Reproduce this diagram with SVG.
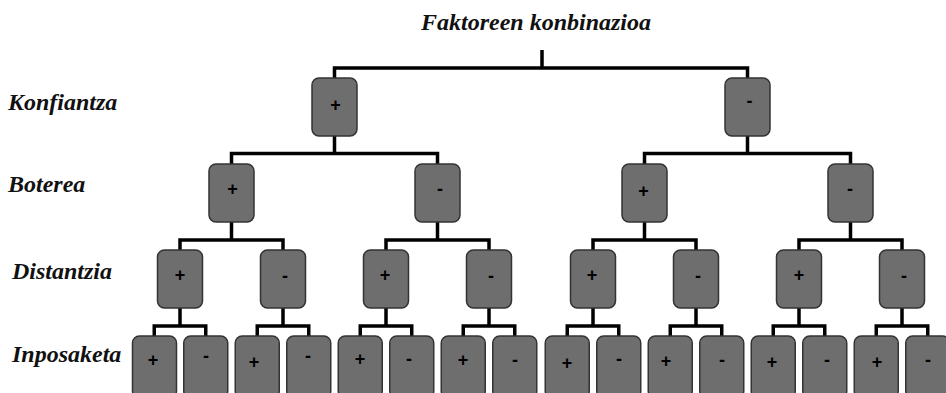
<svg xmlns="http://www.w3.org/2000/svg" width="946" height="393" viewBox="0 0 946 393">
<style>
.lbl{font-family:"Liberation Serif","Times New Roman",serif;font-weight:bold;font-style:italic;font-size:24px;fill:#111}
.nd rect{fill:#6e6e6e;stroke:#333;stroke-width:1.5}
.nd text{font-family:"Liberation Sans",Arial,sans-serif;font-weight:bold;font-size:18px;fill:#000;text-anchor:middle}
.cn path{fill:none;stroke:#000;stroke-width:3.5;stroke-linejoin:miter}
</style>
<rect width="946" height="393" fill="#fff"/>
<text class="lbl" x="536" y="30" text-anchor="middle">Faktoreen konbinazioa</text>
<text class="lbl" x="8" y="110">Konfiantza</text>
<text class="lbl" x="8" y="192">Boterea</text>
<text class="lbl" x="12" y="279">Distantzia</text>
<text class="lbl" x="12" y="362">Inposaketa</text>
<g id="connectors" class="cn">
<path d="M542 50V68M334.5 78V68H747.5V78"/>
<path d="M334.5 136V153.5M231.5 164V153.5H437.5V164"/>
<path d="M747.5 136V153.5M644.5 164V153.5H850.5V164"/>
<path d="M231.5 222V240M180 250V240H283V250"/>
<path d="M437.5 222V240M386 250V240H489V250"/>
<path d="M644.5 222V240M593 250V240H696V250"/>
<path d="M850.5 222V240M799 250V240H902V250"/>
<path d="M180 308V326M154.25 336V326H205.75V336"/>
<path d="M283 308V326M257.25 336V326H308.75V336"/>
<path d="M386 308V326M360.25 336V326H411.75V336"/>
<path d="M489 308V326M463.25 336V326H514.75V336"/>
<path d="M593 308V326M567.25 336V326H618.75V336"/>
<path d="M696 308V326M670.25 336V326H721.75V336"/>
<path d="M799 308V326M773.25 336V326H824.75V336"/>
<path d="M902 308V326M876.25 336V326H927.75V336"/>
</g>
<g id="n1p" class="nd"><rect x="312" y="78" width="45" height="58" rx="7"/><text x="335.5" y="110.5">+</text></g>
<g id="n1m" class="nd"><rect x="725" y="78" width="45" height="58" rx="7"/><text x="749.5" y="107">-</text></g>
<g id="n2a" class="nd"><rect x="209" y="164" width="45" height="58" rx="7"/><text x="232.5" y="195">+</text></g>
<g id="n2b" class="nd"><rect x="415" y="164" width="45" height="58" rx="7"/><text x="440" y="194.5">-</text></g>
<g id="n2c" class="nd"><rect x="622" y="164" width="45" height="58" rx="7"/><text x="643.5" y="197">+</text></g>
<g id="n2d" class="nd"><rect x="828" y="164" width="45" height="58" rx="7"/><text x="850" y="194.5">-</text></g>
<g id="n3a" class="nd"><rect x="157.5" y="250" width="45" height="58" rx="7"/><text x="180" y="281">+</text></g>
<g id="n3b" class="nd"><rect x="260.5" y="250" width="45" height="58" rx="7"/><text x="285" y="282">-</text></g>
<g id="n3c" class="nd"><rect x="363.5" y="250" width="45" height="58" rx="7"/><text x="385" y="281">+</text></g>
<g id="n3d" class="nd"><rect x="466.5" y="250" width="45" height="58" rx="7"/><text x="491" y="282">-</text></g>
<g id="n3e" class="nd"><rect x="570.5" y="250" width="45" height="58" rx="7"/><text x="592" y="281">+</text></g>
<g id="n3f" class="nd"><rect x="673.5" y="250" width="45" height="58" rx="7"/><text x="698" y="282">-</text></g>
<g id="n3g" class="nd"><rect x="776.5" y="250" width="45" height="58" rx="7"/><text x="799" y="281">+</text></g>
<g id="n3h" class="nd"><rect x="879.5" y="250" width="45" height="58" rx="7"/><text x="904" y="282">-</text></g>
<g id="n4a" class="nd"><rect x="132.5" y="336" width="44" height="62" rx="7"/><text x="153" y="366">+</text></g>
<g id="n4b" class="nd"><rect x="183.75" y="336" width="44" height="62" rx="7"/><text x="206" y="361.5">-</text></g>
<g id="n4c" class="nd"><rect x="235.25" y="336" width="44" height="62" rx="7"/><text x="254" y="368">+</text></g>
<g id="n4d" class="nd"><rect x="286.75" y="336" width="44" height="62" rx="7"/><text x="308" y="361.5">-</text></g>
<g id="n4e" class="nd"><rect x="338.25" y="336" width="44" height="62" rx="7"/><text x="360" y="365">+</text></g>
<g id="n4f" class="nd"><rect x="389.75" y="336" width="44" height="62" rx="7"/><text x="409" y="364.5">-</text></g>
<g id="n4g" class="nd"><rect x="441.25" y="336" width="44" height="62" rx="7"/><text x="463" y="366">+</text></g>
<g id="n4h" class="nd"><rect x="492.75" y="336" width="44" height="62" rx="7"/><text x="515" y="365.5">-</text></g>
<g id="n4i" class="nd"><rect x="545.25" y="336" width="44" height="62" rx="7"/><text x="567" y="368.5">+</text></g>
<g id="n4j" class="nd"><rect x="596.75" y="336" width="44" height="62" rx="7"/><text x="619" y="364.5">-</text></g>
<g id="n4k" class="nd"><rect x="648.25" y="336" width="44" height="62" rx="7"/><text x="666" y="366.5">+</text></g>
<g id="n4l" class="nd"><rect x="699.75" y="336" width="44" height="62" rx="7"/><text x="722" y="365.5">-</text></g>
<g id="n4m" class="nd"><rect x="751.25" y="336" width="44" height="62" rx="7"/><text x="772" y="368">+</text></g>
<g id="n4n" class="nd"><rect x="802.75" y="336" width="44" height="62" rx="7"/><text x="827" y="366">-</text></g>
<g id="n4o" class="nd"><rect x="854.25" y="336" width="44" height="62" rx="7"/><text x="877" y="368">+</text></g>
<g id="n4p" class="nd"><rect x="905.75" y="336" width="44" height="62" rx="7"/><text x="928" y="365.5">-</text></g>
</svg>
